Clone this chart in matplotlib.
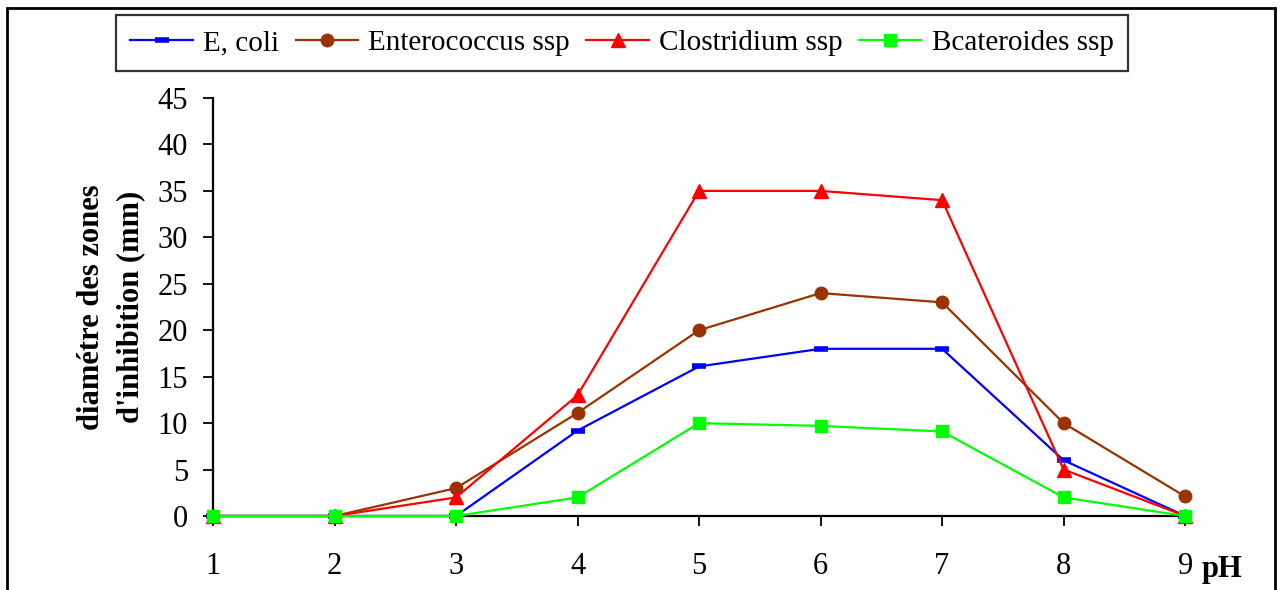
import matplotlib
matplotlib.use("Agg")
import matplotlib.pyplot as plt
from matplotlib.patches import Rectangle

plt.rcParams['font.family'] = ['Liberation Serif', 'DejaVu Serif']

ph = [1, 2, 3, 4, 5, 6, 7, 8, 9]
e_coli = [0, 0, 0, 9.2, 16.1, 18, 18, 6, 0]
enterococcus = [0, 0, 3, 11.1, 20, 24, 23, 10, 2.1]
clostridium = [0, 0, 2, 13, 35, 35, 34, 5, 0]
bacteroides = [0, 0, 0, 2, 10, 9.7, 9.1, 2, 0]
series_names = ["E, coli", "Enterococcus ssp", "Clostridium ssp", "Bcateroides ssp"]
y_ticks = [0, 5, 10, 15, 20, 25, 30, 35, 40, 45]

W, H = 1283, 590
fig = plt.figure(figsize=(W / 100, H / 100), dpi=100)
ax = fig.add_axes([213 / W, 1 - 516 / H, (1190 - 213) / W, (516 - 98) / H])

styles = [
    dict(color="#0000FF", marker="_", markersize=10.5, markeredgewidth=4),
    dict(color="#993300", marker="o", markersize=9),
    dict(color="#FF0000", marker="^", markersize=10),
    dict(color="#00FF00", marker="s", markersize=9),
]
for vals, name, st in zip([e_coli, enterococcus, clostridium, bacteroides], series_names, styles):
    ax.plot(ph, vals, linewidth=1.6, label=name, clip_on=False, zorder=3, **st)

ax.set_xlim(1, 9.04)
ax.set_ylim(0, 45)
ax.set_xticks(ph)
ax.set_yticks(y_ticks)
for s in ["top", "right"]:
    ax.spines[s].set_visible(False)
for s in ["left", "bottom"]:
    ax.spines[s].set_linewidth(1.6)
ax.tick_params(axis="both", direction="out", length=7, width=1.3, labelsize=22)
ax.tick_params(axis="y", pad=11)
ax.tick_params(axis="x", pad=19)

fig.text(111 / W, 1 - 307 / H, "diamétre des zones\nd'inhibition (mm)", rotation=90,
         ha="center", va="center", multialignment="center", fontsize=22,
         fontweight="bold", linespacing=1.45)
fig.text(1222 / W, 1 - 569 / H, "pH", ha="center", va="center", fontsize=22, fontweight="bold")

leg = fig.legend(loc="upper center", bbox_to_anchor=(622 / W, 1 - 15 / H), ncol=4,
                 fontsize=21, frameon=True, fancybox=False, edgecolor="black",
                 handlelength=2.15, handletextpad=0.35, columnspacing=0.55,
                 borderpad=0.5, borderaxespad=0)
leg.get_frame().set_linewidth(1.6)

fig.patches.append(Rectangle((7 / W, -0.05), (1275 - 7) / W, 1 - 8 / H + 0.05,
                             transform=fig.transFigure, fill=False,
                             edgecolor="black", linewidth=2))

fig.savefig("out.png", dpi=100)
